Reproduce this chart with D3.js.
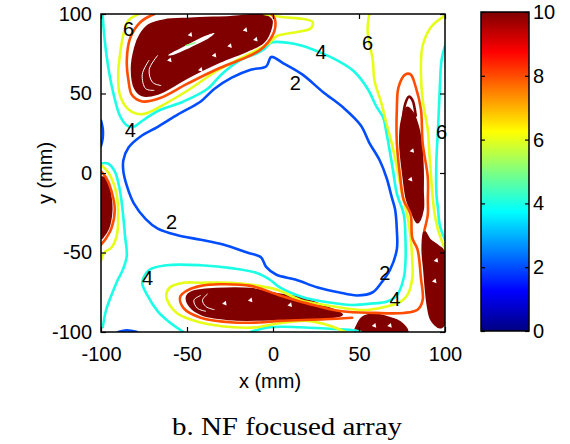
<!DOCTYPE html>
<html>
<head>
<meta charset="utf-8">
<script src="https://cdn.jsdelivr.net/npm/d3@7"></script>
<style>
body{margin:0;background:#fff}
</style>
</head>
<body>
<script>
// ticks
const xTicks = [-100, -50, 0, 50, 100];
const yTicks = [-100, -50, 0, 50, 100];
const cbTicks = [0, 2, 4, 6, 8, 10];

// contour lines, [x mm, y mm]
const blue2Main = [[-1,73],[-4,67],[-13,65],[-24,60],[-34,53],[-42,45],[-55,37],[-67,29],[-77,23],[-84,16],[-87,8],[-87,1],[-85,-8],[-81,-19],[-74,-29],[-67,-35],[-56,-39],[-42,-42],[-29,-45],[-15,-50],[-7,-53],[-4,-59],[2,-64],[13,-67],[26,-72],[38,-75],[49,-77],[58,-75],[63,-69],[68,-61],[72,-48],[72,-36],[71,-23],[69,-15],[66,-3],[62,8],[56,19],[51,30],[41,41],[29,51],[17,62],[6,69]];
const blue2Left = [[-100,33],[-99,28],[-99,22],[-100,17]];
const blue2Bottom = [[-90,-100],[-85,-99],[-79,-100]];

const cyan4Main = [[-99,99],[-98,85],[-96,68],[-93,51],[-89,36],[-85,30],[-81,29],[-77,32],[-67,39],[-52,45],[-38,53],[-30,62],[-19,71],[-10,75],[-5,78],[-1,82],[8,82],[17,80],[27,76],[37,71],[47,64],[55,53],[60,42],[64,35],[66,25],[68,13],[70,0],[72,-13],[76,-26],[77,-41],[77,-56],[76,-66],[72,-77],[66,-81],[58,-82],[46,-83],[30,-81],[17,-78],[4,-72],[-2,-67],[-9,-63],[-23,-60],[-42,-58],[-62,-58],[-72,-61],[-76,-69],[-73,-77],[-67,-87],[-60,-94],[-52,-100]];
const cyan4Left = [[-100,6],[-96,6],[-92,1],[-89,-11],[-87,-28],[-86,-40],[-85,-52],[-87,-60],[-91,-69],[-94,-77],[-97,-86],[-99,-97]];
const cyan4Right = [[100,80],[98,71],[97,54],[96,29],[95,8],[95,-13],[96,-23],[97,-33],[100,-42]];
const cyan4Bottom = [[-13,-100],[-2,-97],[16,-97],[33,-98],[48,-99],[51,-100]];

const yellow6TopLeft = [[-78,100],[-84,96],[-87,87],[-89,74],[-90,62],[-89,49],[-84,40],[-76,37],[-62,44],[-48,53],[-33,64],[-19,72],[-8,78],[-2,82],[2,86],[10,88],[22,91],[23,95],[17,97],[6,98],[-5,100]];
const yellow6Middle = [[56,100],[55,89],[58,71],[59,58],[63,44],[66,31],[69,19],[72,4],[75,-13],[78,-26],[80,-41],[81,-56],[81,-66],[78,-77],[74,-81],[66,-84],[56,-86],[49,-86],[30,-83],[16,-80],[4,-74],[-8,-71],[-25,-69],[-42,-69],[-52,-69],[-60,-72],[-62,-78],[-56,-88],[-42,-94],[-23,-97],[-9,-97],[1,-95],[20,-93],[33,-96],[42,-100]];
const yellow6Right = [[100,99],[92,92],[87,80],[86,64],[87,46],[90,27],[91,11],[92,-4],[93,-17],[94,-26],[96,-36],[100,-48]];
const yellow6Left = [[-100,5],[-97,2],[-94,-3],[-91,-13],[-90,-28],[-91,-40],[-94,-47],[-98,-50],[-100,-55]];

const orange8TopLeft = [[-69,100],[-77,95],[-83,85],[-85,71],[-84,58],[-82,49],[-76,45],[-66,47],[-50,56],[-31,66],[-15,73],[-8,77],[-3,82],[1,90],[1,97],[-1,100]];
const orange8Right = [[88,-36],[90,-26],[90,-17],[90,-3],[87,19],[86,40],[83,54],[80,62],[77,62],[73,54],[72,40],[72,19],[74,-3],[76,-17],[80,-26],[81,-41],[84,-48],[86,-66],[87,-80],[84,-86],[76,-88],[59,-88],[40,-87],[20,-82],[4,-77],[-13,-71],[-31,-70],[-42,-71],[-50,-74],[-54,-78],[-52,-85],[-42,-91],[-23,-94],[-8,-94],[4,-93],[30,-92],[46,-91]];
const orange8Left = [[-100,1],[-97,-3],[-94,-11],[-92,-23],[-94,-35],[-97,-41],[-100,-45]];
const hotArcRight = [[75,30],[77,44],[79,48],[81,46],[83,36]];

// hot spots (level 10 and above), closed outlines
const hotTopLeft = [[-72,93],[-77,87],[-80,79],[-82,65],[-80,53],[-76,49],[-67,50],[-50,60],[-31,70],[-15,77],[-6,82],[-2,89],[-1,96],[-5,99],[-25,98],[-48,97],[-63,96]];
const hotRight = [[78,41],[75,33],[74,19],[76,-3],[78,-17],[81,-25],[84,-31],[87,-23],[87,-11],[87,2],[86,19],[84,30],[81,38]];
const hotLeft = [[-100,-3],[-97,-4],[-95,-12],[-94,-23],[-96,-35],[-99,-40],[-100,-41]];
const hotLowerRight = [[88,-37],[91,-42],[96,-46],[100,-50],[100,-94],[97,-97],[92,-92],[90,-83],[89,-74],[88,-61],[87,-48]];
const hotBottomLeft = [[-50,-78],[-47,-75],[-33,-73],[-13,-73],[1,-76],[13,-78],[20,-80],[30,-84],[40,-89],[30,-91],[11,-92],[0,-92],[-23,-92],[-41,-89],[-48,-84]];
const hotBottomRight = [[48,-100],[49,-96],[52,-91],[59,-89],[67,-91],[74,-94],[78,-100]];

// gaps between the dense high-level lines inside the hot spots
const gapStreak = [[-61,74],[-51,80],[-40,86],[-34,88],[-37,85],[-48,79],[-59,74]];
const gapArcs = [
  [[-72,71],[-76,62],[-74,53],[-69,52]],
  [[-67,74],[-72,65],[-70,57],[-65,55]],
  [[-42,-77],[-46,-80],[-44,-85],[-39,-87]],
  [[-38,-76],[-41,-80],[-39,-84],[-34,-86]]
];
const streakCore = [[-51,80],[-45,82]];
const gapSpecks = [[-48,87],[-34,74],[-25,80],[-16,90],[-10,84],[-42,65],[-60,71],[-28,-82],[-13,-80],[10,-83],[81,14],[80,-4],[59,-96],[68,-96],[94,-68],[95,-55]];

// contour labels
const labelLevels = [6, 4, 6, 2, 4, 6, 2, 4, 2, 4];
const labelX = [-84, 28, 55, 13, -83, 98, -59, -73, 65, 71];
const labelY = [91, 76, 82, 57, 27, 26, -31, -66, -63, -79];

const lines = [
  {level: 2, pts: blue2Main, closed: true},
  {level: 2, pts: blue2Left}, {level: 2, pts: blue2Bottom},
  {level: 4, pts: cyan4Main}, {level: 4, pts: cyan4Left},
  {level: 4, pts: cyan4Right}, {level: 4, pts: cyan4Bottom},
  {level: 6, pts: yellow6TopLeft}, {level: 6, pts: yellow6Middle},
  {level: 6, pts: yellow6Right}, {level: 6, pts: yellow6Left},
  {level: 8, pts: orange8TopLeft}, {level: 8, pts: orange8Right},
  {level: 8, pts: orange8Left}, {level: 10, pts: hotArcRight}
];
const hotSpots = [hotTopLeft, hotRight, hotLeft, hotLowerRight, hotBottomLeft, hotBottomRight];

const width = 570, height = 444;
const plot = {left: 101, right: 445, top: 14, bottom: 332};
const cb = {left: 481, right: 529, top: 12, bottom: 331};
const sans = '"Liberation Sans",Arial,sans-serif';

const svg = d3.select('body').append('svg').attr('width', width).attr('height', height)
  .attr('font-family', sans);

const x = d3.scaleLinear().domain([-100, 100]).range([plot.left, plot.right]);
const y = d3.scaleLinear().domain([-100, 100]).range([plot.bottom, plot.top]);

// MATLAB jet colormap
function jet(t) {
  const c = v => Math.max(0, Math.min(1, v));
  return d3.rgb(255 * c(1.5 - Math.abs(4 * t - 3)), 255 * c(1.5 - Math.abs(4 * t - 2)), 255 * c(1.5 - Math.abs(4 * t - 1))).toString();
}
const color = d3.scaleSequential(jet).domain([0, 10]).clamp(true);

svg.append('clipPath').attr('id', 'clip').append('rect')
  .attr('x', plot.left).attr('y', plot.top)
  .attr('width', plot.right - plot.left).attr('height', plot.bottom - plot.top);

const grp = svg.append('g').attr('clip-path', 'url(#clip)');

const openLine = d3.line().x(d => x(d[0])).y(d => y(d[1])).curve(d3.curveCatmullRom.alpha(0.5));
const closedLine = d3.line().x(d => x(d[0])).y(d => y(d[1])).curve(d3.curveCatmullRomClosed.alpha(0.5));

// hot spots
grp.selectAll('path.hot').data(hotSpots).enter().append('path')
  .attr('class', 'hot')
  .attr('d', closedLine)
  .attr('fill', color(10)).attr('stroke', color(10))
  .attr('stroke-width', 2.5).attr('stroke-linejoin', 'round');

grp.append('path').attr('d', closedLine(gapStreak)).attr('fill', '#fff').attr('stroke', 'none');
grp.append('path').attr('d', openLine(streakCore)).attr('fill', 'none').attr('stroke', color(5)).attr('stroke-width', 1.5);
grp.selectAll('path.gap').data(gapArcs).enter().append('path')
  .attr('class', 'gap')
  .attr('d', openLine)
  .attr('fill', 'none').attr('stroke', '#fff').attr('stroke-width', 1);
grp.selectAll('path.speck').data(gapSpecks).enter().append('path')
  .attr('class', 'speck')
  .attr('transform', d => 'translate(' + x(d[0]) + ',' + y(d[1]) + ') rotate(20)')
  .attr('d', d3.symbol(d3.symbolTriangle, 10))
  .attr('fill', '#fff');

// contour lines
grp.selectAll('path.contour').data(lines).enter().append('path')
  .attr('class', 'contour')
  .attr('d', d => d.closed ? closedLine(d.pts) : openLine(d.pts))
  .attr('fill', 'none')
  .attr('stroke', d => color(d.level))
  .attr('stroke-width', 2.6)
  .attr('stroke-linejoin', 'round')
  .attr('stroke-linecap', 'round');

// contour labels
svg.selectAll('text.clabel').data(labelLevels).enter().append('text')
  .attr('class', 'clabel')
  .attr('x', (d, i) => x(labelX[i]))
  .attr('y', (d, i) => y(labelY[i]))
  .attr('dy', '0.36em')
  .attr('text-anchor', 'middle')
  .attr('font-size', 20)
  .text(d => d);

// axes
const tick = 5;
const axisFont = 20;
svg.append('g').attr('transform', 'translate(0,' + plot.bottom + ')')
  .call(d3.axisBottom(x).tickValues(xTicks).tickSize(-tick).tickPadding(15).tickSizeOuter(0));
svg.append('g').attr('transform', 'translate(' + plot.left + ',0)')
  .call(d3.axisLeft(y).tickValues(yTicks).tickSize(-tick).tickPadding(9).tickSizeOuter(0));
svg.append('g').attr('transform', 'translate(0,' + plot.top + ')')
  .call(d3.axisTop(x).tickValues(xTicks).tickSize(-tick).tickFormat('').tickSizeOuter(0));
svg.append('g').attr('transform', 'translate(' + plot.right + ',0)')
  .call(d3.axisRight(y).tickValues(yTicks).tickSize(-tick).tickFormat('').tickSizeOuter(0));

svg.append('rect')
  .attr('x', plot.left).attr('y', plot.top)
  .attr('width', plot.right - plot.left).attr('height', plot.bottom - plot.top)
  .attr('fill', 'none').attr('stroke', '#000').attr('stroke-width', 1.5);

svg.append('text').attr('x', 270).attr('y', 388)
  .attr('text-anchor', 'middle').attr('font-size', axisFont).text('x (mm)');
svg.append('text').attr('transform', 'translate(52,173) rotate(-90)')
  .attr('text-anchor', 'middle').attr('font-size', axisFont).text('y (mm)');

// colorbar
const cbScale = d3.scaleLinear().domain([0, 10]).range([cb.bottom, cb.top]);
const grad = svg.append('defs').append('linearGradient').attr('id', 'jetgrad')
  .attr('x1', 0).attr('y1', 1).attr('x2', 0).attr('y2', 0);
grad.selectAll('stop').data(d3.range(0, 10.01, 0.25)).enter().append('stop')
  .attr('offset', d => d / 10)
  .attr('stop-color', d => color(d));
svg.append('rect')
  .attr('x', cb.left).attr('y', cb.top)
  .attr('width', cb.right - cb.left).attr('height', cb.bottom - cb.top)
  .attr('fill', 'url(#jetgrad)');
svg.append('g').attr('transform', 'translate(' + cb.right + ',0)')
  .call(d3.axisRight(cbScale).tickValues(cbTicks).tickSize(-4).tickPadding(4).tickSizeOuter(0));
svg.append('g').attr('transform', 'translate(' + cb.left + ',0)')
  .call(d3.axisLeft(cbScale).tickValues(cbTicks).tickSize(-4).tickFormat('').tickSizeOuter(0));
svg.append('rect')
  .attr('x', cb.left).attr('y', cb.top)
  .attr('width', cb.right - cb.left).attr('height', cb.bottom - cb.top)
  .attr('fill', 'none').attr('stroke', '#000').attr('stroke-width', 1.5);

svg.selectAll('.domain').remove();
svg.selectAll('.tick line').attr('stroke', '#000').attr('stroke-width', 1.2);
svg.selectAll('.tick text').attr('font-size', axisFont).attr('fill', '#000')
  .attr('font-family', sans)
  .text(function () { return d3.select(this).text().replace('\u2212', '-'); });

// caption
svg.append('text').attr('x', 287).attr('y', 435)
  .attr('text-anchor', 'middle')
  .attr('font-family', '"Liberation Serif","Times New Roman",serif')
  .attr('font-size', 26)
  .attr('textLength', 230).attr('lengthAdjust', 'spacingAndGlyphs')
  .text('b. NF focused array');
</script>
</body>
</html>
